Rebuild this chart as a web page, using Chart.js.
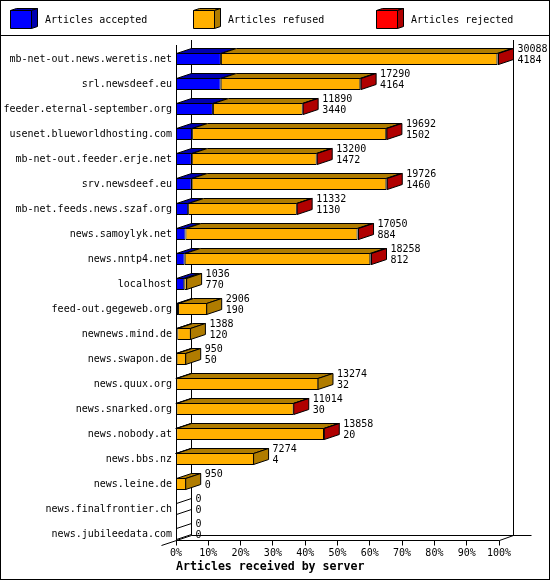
<!DOCTYPE html>
<html>
<head>
<meta charset="utf-8">
<script src="https://cdn.jsdelivr.net/npm/chart.js@4.4.1/dist/chart.umd.min.js"></script>
<style>
html, body { margin: 0; padding: 0; background: #fff; }
canvas { display: block; }
</style>
</head>
<body>
<canvas id="chart" width="550" height="580"></canvas>
<script>
// values
var servers = [
    'mb-net-out.news.weretis.net', 'srl.newsdeef.eu', 'feeder.eternal-september.org',
    'usenet.blueworldhosting.com', 'mb-net-out.feeder.erje.net', 'srv.newsdeef.eu',
    'mb-net.feeds.news.szaf.org', 'news.samoylyk.net', 'news.nntp4.net', 'localhost',
    'feed-out.gegeweb.org', 'newnews.mind.de', 'news.swapon.de', 'news.quux.org',
    'news.snarked.org', 'news.nobody.at', 'news.bbs.nz', 'news.leine.de',
    'news.finalfrontier.ch', 'news.jubileedata.com'
];
var accepted = [4184, 4164, 3440, 1502, 1472, 1460, 1130, 884, 812, 770, 190, 120, 50, 32, 30, 20, 4, 0, 0, 0];
var refused  = [25754, 13006, 8360, 18080, 11628, 18136, 10122, 16026, 17286, 266, 2716, 1268, 900, 13242, 10924, 13768, 7270, 950, 0, 0];
var rejected = [150, 120, 90, 110, 100, 130, 80, 140, 160, 0, 0, 0, 0, 0, 60, 70, 0, 0, 0, 0];
var seriesNames = ['Articles accepted', 'Articles refused', 'Articles rejected'];
var frontColors = ['#0000ff', '#ffb000', '#ff0000'];
var darkColors  = ['#0000b0', '#b07c00', '#b00000'];

var mono = '"DejaVu Sans Mono", "Liberation Mono", monospace';
var depth = { x: 15, y: -5 };

var totals = servers.map(function(s, i) { return accepted[i] + refused[i] + rejected[i]; });
var maxTotal = Math.max.apply(null, totals);
function pct(arr) { return arr.map(function(v) { return v / maxTotal * 100; }); }

function poly(ctx, pts, fill) {
    ctx.beginPath();
    ctx.moveTo(pts[0][0], pts[0][1]);
    for (var k = 1; k < pts.length; k++) ctx.lineTo(pts[k][0], pts[k][1]);
    ctx.closePath();
    if (fill) { ctx.fillStyle = fill; ctx.fill(); }
    ctx.stroke();
}
function line(ctx, x0, y0, x1, y1) {
    ctx.beginPath(); ctx.moveTo(x0, y0); ctx.lineTo(x1, y1); ctx.stroke();
}

// frame, legend band, walls and floor behind the bars
var backdrop = {
    id: 'backdrop',
    beforeDatasetsDraw: function(chart) {
        var ctx = chart.ctx, xs = chart.scales.x;
        var x0 = Math.floor(xs.getPixelForValue(0)) + 0.5,
            x1 = Math.floor(xs.getPixelForValue(100)) + 0.5,
            fy = 540.5, by = fy + depth.y, top = 40;
        ctx.save();
        ctx.strokeStyle = '#000';
        ctx.lineWidth = 1;
        ctx.strokeRect(0.5, 0.5, 549, 579);
        line(ctx, 0, 35.5, 550, 35.5);
        // back wall
        line(ctx, x0 + depth.x, top, x0 + depth.x, by);
        line(ctx, x1 + depth.x - 1, top, x1 + depth.x - 1, by);
        line(ctx, x0 + depth.x, by, x1 + depth.x + 17, by);
        // front axis and floor edge
        line(ctx, x0, top + 5, x0, fy);
        line(ctx, x0, fy, x1, fy);
        line(ctx, x1, fy, x1 + depth.x - 1, by);
        line(ctx, x0 - depth.x, fy - depth.y, x0 + depth.x, by);
        xs.ticks.forEach(function(t) {
            var px = Math.floor(xs.getPixelForValue(t.value)) + 0.5;
            line(ctx, px, fy, px, fy + 5);
        });
        ctx.restore();
    }
};

// top and side faces, plus the two numbers to the right of every bar
var bars3d = {
    id: 'bars3d',
    afterDatasetsDraw: function(chart) {
        var ctx = chart.ctx;
        ctx.save();
        ctx.strokeStyle = '#000';
        ctx.lineWidth = 1;
        servers.forEach(function(name, i) {
            var last = null, base = null, yT, yB, cy;
            chart.data.datasets.forEach(function(ds, d) {
                var p = chart.getDatasetMeta(d).data[i].getProps(['x', 'y', 'base', 'height'], true);
                cy = p.y;
                yT = p.y - p.height / 2 + 0.5;
                yB = p.y + p.height / 2 - 0.5;
                if (base === null) base = p.base + 0.5;
                if (ds.data[i] > 0) {
                    var a = p.base + 0.5, b = p.x - 0.5;
                    poly(ctx, [[a, yT], [b, yT], [b + depth.x, yT + depth.y], [a + depth.x, yT + depth.y]], darkColors[d]);
                    last = { x: b, color: darkColors[d] };
                }
            });
            var end = base;
            if (last) {
                end = last.x;
                poly(ctx, [[end, yT], [end + depth.x, yT + depth.y], [end + depth.x, yB + depth.y], [end, yB]], last.color);
            } else {
                line(ctx, base, yT, base + depth.x, yT + depth.y);
                line(ctx, base, yB, base + depth.x, yB + depth.y);
            }
            ctx.fillStyle = '#000';
            ctx.font = '10px ' + mono;
            ctx.textAlign = 'left';
            ctx.textBaseline = 'middle';
            ctx.fillText(String(totals[i]), end + depth.x + 4, cy - 10);
            ctx.fillText(String(accepted[i]), end + depth.x + 4, cy + 1);
        });
        ctx.restore();
    }
};

// legend with little cubes
var cubeLegend = {
    id: 'cubeLegend',
    afterDraw: function(chart) {
        var ctx = chart.ctx;
        ctx.save();
        ctx.strokeStyle = '#000';
        ctx.lineWidth = 1;
        chart.data.datasets.forEach(function(ds, d) {
            var x = 10.5 + d * 183, y = 10.5, w = 21, h = 18, dx = 6, dy = -2;
            poly(ctx, [[x, y], [x + dx, y + dy], [x + w + dx, y + dy], [x + w, y]], darkColors[d]);
            poly(ctx, [[x + w, y], [x + w + dx, y + dy], [x + w + dx, y + h + dy], [x + w, y + h]], darkColors[d]);
            poly(ctx, [[x, y], [x + w, y], [x + w, y + h], [x, y + h]], frontColors[d]);
            ctx.fillStyle = '#000';
            ctx.font = '10px ' + mono;
            ctx.textBaseline = 'middle';
            ctx.fillText(ds.label, x + 34.5, 20);
        });
        ctx.restore();
    }
};

var ctx = document.getElementById('chart').getContext('2d');
var chart = new Chart(ctx, {
    type: 'bar',
    data: {
        labels: servers,
        datasets: [accepted, refused, rejected].map(function(arr, d) {
            return {
                label: seriesNames[d],
                data: pct(arr),
                backgroundColor: frontColors[d],
                borderColor: '#000',
                borderWidth: 1,
                borderSkipped: false,
                inflateAmount: 0,
                barThickness: 12
            };
        })
    },
    options: {
        indexAxis: 'y',
        responsive: false,
        animation: false,
        devicePixelRatio: 1,
        layout: { padding: { top: 46.5, right: 51, bottom: 0, left: 0 } },
        plugins: { legend: { display: false }, tooltip: { enabled: false } },
        scales: {
            x: {
                stacked: true,
                min: 0,
                max: 100,
                grid: { display: false, drawTicks: false },
                border: { display: false },
                ticks: {
                    stepSize: 10,
                    padding: 1,
                    color: '#000',
                    font: { family: mono, size: 10 },
                    callback: function(v) { return v + '%'; }
                },
                title: {
                    display: true,
                    text: 'Articles received by server',
                    align: 'start',
                    color: '#000',
                    font: { family: mono, size: 11.6, weight: 'bold' },
                    padding: { top: 0, bottom: 6 }
                },
                afterFit: function(s) { s.height = 33.5; }
            },
            y: {
                stacked: true,
                grid: { display: false, drawTicks: false },
                border: { display: false },
                ticks: {
                    autoSkip: false,
                    padding: 4,
                    color: '#000',
                    font: { family: mono, size: 10 }
                },
                afterFit: function(s) { s.width = 176; }
            }
        }
    },
    plugins: [backdrop, bars3d, cubeLegend]
});
</script>
</body>
</html>
